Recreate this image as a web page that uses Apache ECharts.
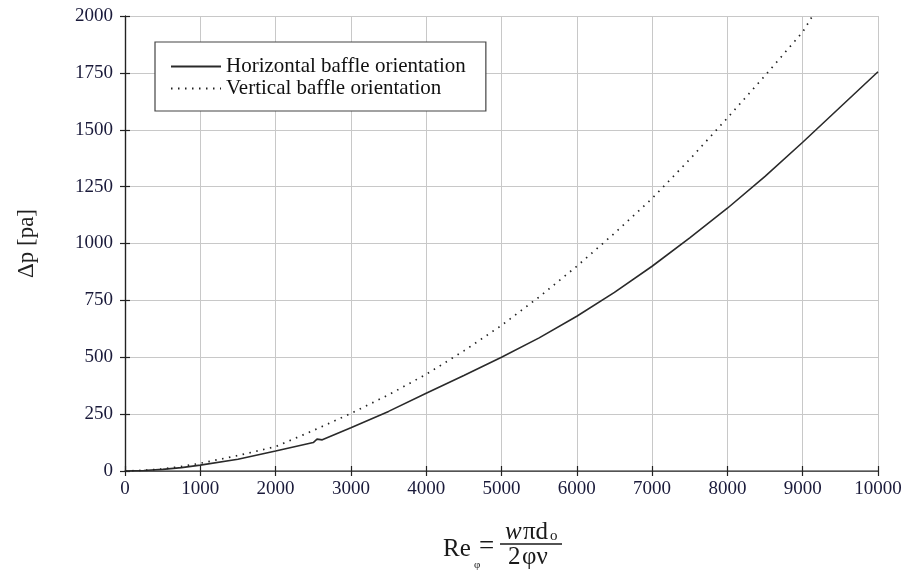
<!DOCTYPE html>
<html>
<head>
    <meta charset="utf-8">
    <title>Pressure drop vs Reynolds number</title>
    <script src="https://cdn.jsdelivr.net/npm/echarts@6/dist/echarts.min.js"></script>
    <style>
        html, body { margin: 0; padding: 0; background: #fff; }
        #chart1 { width: 908px; height: 580px; }
    </style>
</head>
<body>
<div id="chart1"></div>
<script type="text/javascript">
    // values
    var reHorizontal = [0, 250, 500, 750, 1000, 1500, 2000, 2500, 2550, 2620, 3000, 3500, 4000, 4500, 5000,
        5500, 6000, 6500, 7000, 7500, 8000, 8500, 9000, 9500, 10000];
    var dpHorizontal = [0, 2, 7, 15, 26, 52, 88, 125, 140, 137, 190, 262, 342, 420, 500,
        585, 680, 785, 900, 1025, 1155, 1295, 1445, 1600, 1755];

    var reVertical = [0, 250, 500, 750, 1000, 1500, 2000, 2500, 3000, 3500, 4000, 4500, 5000,
        5500, 6000, 6500, 7000, 7500, 8000, 8500, 9000, 9130];
    var dpVertical = [0, 3, 9, 20, 34, 68, 107, 178, 253, 335, 425, 528, 640,
        765, 900, 1045, 1198, 1370, 1552, 1738, 1930, 2000];

    var xTicks = [0, 1000, 2000, 3000, 4000, 5000, 6000, 7000, 8000, 9000, 10000];
    var yTicks = [0, 250, 500, 750, 1000, 1250, 1500, 1750, 2000];

    var serif = "'Liberation Serif', 'DejaVu Serif', serif";

    function pairs(xs, ys) {
        return xs.map(function (x, i) { return [x, ys[i]]; });
    }

    var myChart1 = echarts.init(document.getElementById('chart1'));

    var frameAxis = {
        axisLine: { show: true, lineStyle: { color: '#222', width: 1.2 } },
        axisTick: { show: true, inside: true, length: 5, lineStyle: { color: '#222', width: 1.2 } },
        axisLabel: { show: false },
        splitLine: { show: false }
    };

    // formula pieces for the x axis title
    function txt(s, x, y, font) {
        return { type: 'text', x: x, y: y, style: { text: s, font: font, fill: '#1a1a1a', verticalAlign: 'middle' } };
    }

    myChart1.setOption({
        animation: false,
        backgroundColor: '#fff',
        grid: { left: 125, right: 30, top: 16, bottom: 109 },
        legend: {
            orient: 'vertical',
            left: 155,
            top: 42,
            itemWidth: 50,
            itemHeight: 12,
            itemGap: 1,
            padding: [14, 20, 12, 15],
            borderColor: '#444',
            borderWidth: 1.2,
            backgroundColor: '#fff',
            itemStyle: { opacity: 0 },
            textStyle: { fontFamily: serif, fontSize: 21, color: '#111' },
            data: ['Horizontal baffle orientation', 'Vertical baffle orientation']
        },
        xAxis: [{
            type: 'value',
            min: 0,
            max: 10000,
            interval: 1000,
            axisLine: { show: true, onZero: false, lineStyle: { color: '#222', width: 1.2 } },
            axisTick: { show: true, inside: true, length: 5, lineStyle: { color: '#222', width: 1.2 } },
            axisLabel: {
                margin: 9, fontFamily: serif, fontSize: 19, color: '#1a1a3a',
                formatter: function (v) { return xTicks.indexOf(v) >= 0 ? String(v) : ''; }
            },
            splitLine: { show: true, lineStyle: { color: '#c8c8c8', width: 1 } }
        }, Object.assign({
            type: 'value', position: 'top', min: 0, max: 10000, interval: 1000
        }, frameAxis, { axisLine: { show: true, lineStyle: { color: '#666', width: 1.5 } } })],
        yAxis: [{
            type: 'value',
            min: 0,
            max: 2000,
            interval: 250,
            name: 'Δp [pa]',
            nameLocation: 'middle',
            nameGap: 87,
            nameRotate: 90,
            nameTextStyle: { fontFamily: serif, fontSize: 23, color: '#222' },
            axisLine: { show: true, lineStyle: { color: '#222', width: 1.2 } },
            axisTick: { show: true, inside: true, length: 5, lineStyle: { color: '#222', width: 1.2 } },
            axisLabel: {
                margin: 12, fontFamily: serif, fontSize: 19, color: '#1a1a3a',
                formatter: function (v) { return yTicks.indexOf(v) >= 0 ? String(v) : ''; }
            },
            splitLine: { show: true, lineStyle: { color: '#c8c8c8', width: 1 } }
        }, Object.assign({
            type: 'value', position: 'right', min: 0, max: 2000, interval: 250
        }, frameAxis)],
        series: [{
            name: 'Horizontal baffle orientation',
            type: 'line',
            symbol: 'none',
            color: '#333',
            lineStyle: { color: '#2a2a2a', width: 1.6 },
            data: pairs(reHorizontal, dpHorizontal)
        }, {
            name: 'Vertical baffle orientation',
            type: 'line',
            symbol: 'none',
            color: '#333',
            lineStyle: { color: '#222', width: 1.7, type: [1.5, 5.5] },
            data: pairs(reVertical, dpVertical)
        }],
        // x axis title: Re_φ = wπd_o / 2φν
        graphic: [{
            type: 'group',
            silent: true,
            children: [
                txt('Re', 443, 549, '25px ' + serif),
                txt('φ', 474, 565, '11px ' + serif),
                txt('=', 479, 547, '27px ' + serif),
                txt('w', 505, 532, 'italic 25px ' + serif),
                txt('πd', 523, 532, '25px ' + serif),
                txt('o', 550, 536, '15px ' + serif),
                { type: 'line', shape: { x1: 500, y1: 544, x2: 562, y2: 544 }, style: { stroke: '#1a1a1a', lineWidth: 1.3 } },
                txt('2', 508, 557, '25px ' + serif),
                txt('φν', 522, 557, '25px ' + serif)
            ]
        }]
    });
</script>
</body>
</html>
